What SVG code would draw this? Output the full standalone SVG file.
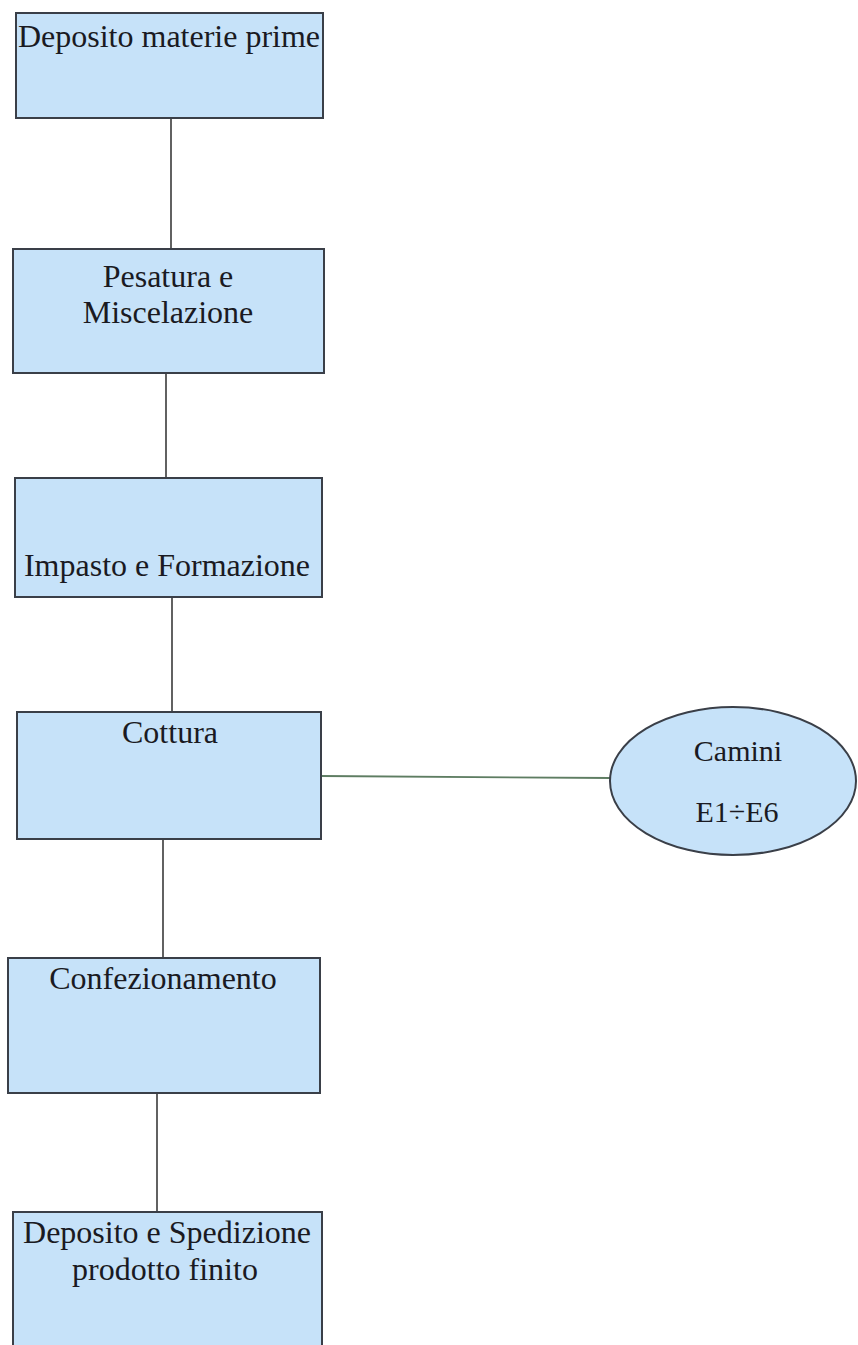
<svg xmlns="http://www.w3.org/2000/svg" width="858" height="1345" viewBox="0 0 858 1345">
<style>
.box{fill:#c6e2f9;stroke:#3a3f48;stroke-width:2}
.t{font-family:"Liberation Serif","Times New Roman",serif;font-size:32px;fill:#1a1a22;text-anchor:middle}
.e{font-size:30px}
.c{stroke:#3a3a3a;stroke-width:1.6;fill:none}
.g{stroke:#5e7d62;stroke-width:1.8;fill:none}
</style>
<rect width="858" height="1345" fill="#ffffff"/>
<g id="connectors">
<line class="c" x1="171" y1="118" x2="171" y2="249"/>
<line class="c" x1="166" y1="362" x2="166" y2="478"/>
<line class="c" x1="172" y1="590" x2="172" y2="712"/>
<line class="c" x1="163" y1="820" x2="163" y2="958"/>
<line class="c" x1="157" y1="1075" x2="157" y2="1212"/>
<line class="g" x1="321" y1="776" x2="611" y2="778"/>
</g>
<g id="n1"><rect class="box" x="16" y="13" width="307" height="105"/><text class="t" x="169" y="47">Deposito materie prime</text></g>
<g id="n2"><rect class="box" x="13" y="249" width="311" height="124"/><text class="t" x="168" y="287">Pesatura e</text><text class="t" x="168" y="323">Miscelazione</text></g>
<g id="n3"><rect class="box" x="15" y="478" width="307" height="119"/><text class="t" x="167" y="576">Impasto e Formazione</text></g>
<g id="n4"><rect class="box" x="17" y="712" width="304" height="127"/><text class="t" x="170" y="743">Cottura</text></g>
<g id="n5"><ellipse class="box" cx="733" cy="781" rx="123" ry="74"/><text class="t e" x="738" y="761">Camini</text><text class="t e" x="737" y="822">E1÷E6</text></g>
<g id="n6"><rect class="box" x="8" y="958" width="312" height="135"/><text class="t" x="163" y="989">Confezionamento</text></g>
<g id="n7"><rect class="box" x="13" y="1212" width="309" height="140"/><text class="t" x="167" y="1243">Deposito e Spedizione</text><text class="t" x="165" y="1280">prodotto finito</text></g>
</svg>
